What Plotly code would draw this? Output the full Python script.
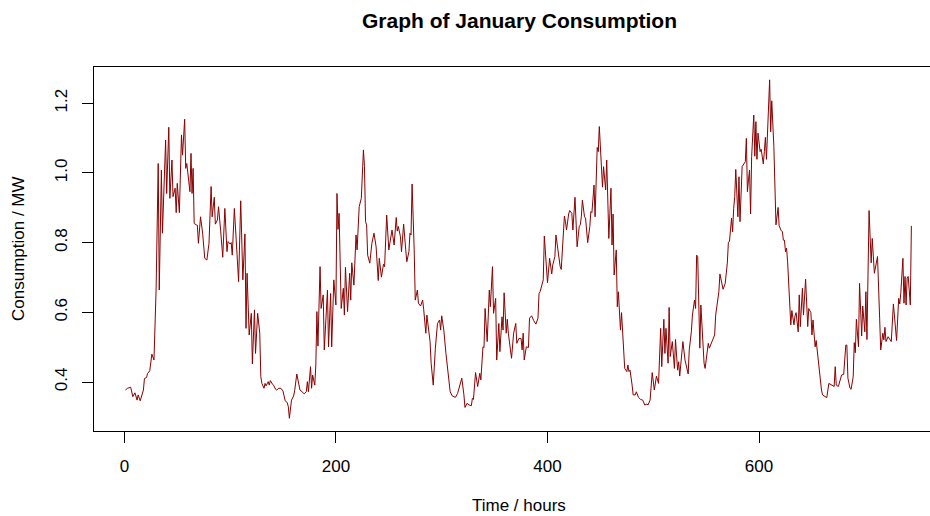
import plotly.graph_objects as go

# Hourly electricity consumption for January (hour index, MW)
hours = [
    1, 3, 6, 8, 10, 12, 13, 15, 18, 19, 21, 22, 24, 26, 28, 30, 32, 33, 35, 36,
    39, 40, 42, 43, 45, 46, 48, 49, 50, 52, 54, 55, 57, 58, 59, 62, 63, 64, 65, 66,
    68, 69, 70, 72, 74, 76, 78, 80, 82, 83, 85, 86, 88, 89, 91, 92, 93,
    95, 97, 98, 100, 101, 102, 104, 106, 108, 110, 112, 114, 115, 116, 118,
    120, 121, 123, 124, 126, 128, 129, 130, 132, 133, 134, 136, 137, 138, 140,
    141, 143, 144, 146, 148, 150, 152, 154, 155, 156, 158, 160, 161, 163, 165,
    166, 168, 170, 172, 173, 174, 176, 177, 178, 180, 181, 182, 183, 185, 186, 188, 189,
    192, 193, 195, 196, 198, 200, 201, 202, 203, 205, 207, 208, 209, 211, 213,
    214, 215, 217, 219, 220, 222, 224, 226, 227, 228, 229, 230, 232, 234, 236,
    238, 240, 241, 243, 245, 246, 248, 250, 253, 255, 257, 258, 259, 261, 262,
    264, 266, 267, 269, 270, 271, 272, 274, 275, 277, 278, 280, 282, 283,
    285, 286, 288, 289, 290, 292, 294, 296, 298, 299, 300, 302, 304, 305, 307,
    308, 310, 313, 315, 317, 319, 321, 322, 324, 326, 328, 329, 330, 332, 334,
    336, 337, 339, 340, 341, 343, 345, 346, 348, 349, 351, 352, 354, 355, 357,
    358, 359, 361, 362, 363, 366, 368, 370, 371, 373, 375, 376, 377, 378,
    380, 382, 383, 385, 387, 389, 391, 392, 393, 395, 396, 397, 399, 400, 402,
    404, 405, 407, 408, 410, 412, 413, 415, 416, 417, 418, 420, 421, 423, 424,
    426, 427, 428, 430, 431, 432, 433, 435, 436, 438, 440, 441, 442, 444, 445,
    447, 448, 449, 451, 452, 453, 455, 456, 458, 460, 461, 462, 463, 465, 466,
    467, 469, 470, 472,
    473, 475, 476, 477, 478, 480, 481, 483, 484, 486, 488, 490, 492, 494, 495,
    497, 499, 501, 503, 505, 507, 508, 510, 511, 512, 514, 515, 516, 518, 520,
    521, 523, 524, 525, 526, 528, 530, 531, 533, 534, 536, 537, 539, 540, 541,
    542, 544, 545, 547, 548, 549, 551, 552, 553, 555, 557, 558, 559, 561, 562,
    563, 565, 566,
    568, 570, 571, 572, 574, 575, 576, 577, 578, 580, 581, 582, 584, 585, 587,
    588, 589, 590, 591, 592, 593, 595, 596, 597, 598, 599, 601, 602, 604, 605,
    606, 607, 610, 611, 612, 614, 615, 616, 618, 619, 621, 622, 623, 624, 625,
    626, 627, 629, 630, 631, 633, 634, 635, 637, 638, 639, 641, 642, 644, 646,
    647, 649, 650, 651, 653, 654, 656, 657, 659, 660,
    662, 664, 666, 667, 669, 671, 672, 673, 675, 677, 678, 680, 682, 683, 684,
    686, 687, 689, 690, 691, 692, 694, 695, 697, 698, 700, 701, 702, 704, 706,
    707, 709, 711, 712, 714, 715, 717, 718, 719, 720, 722, 724, 725, 727, 729,
    730, 732, 733, 734, 736, 737, 738, 739, 740, 741, 743, 744,
]

consumption_mw = [
    0.377, 0.382, 0.385, 0.358, 0.369, 0.348, 0.363, 0.346, 0.377, 0.41, 0.413, 0.425, 0.432, 0.48, 0.463, 0.664, 1.027, 0.664, 1.008, 0.827,
    1.094, 0.941, 1.131, 0.927, 1.037, 0.932, 0.956, 0.886, 0.970, 0.886, 1.109, 1.051, 1.154, 1.013, 1.027, 0.946, 1.056, 0.941, 1.013, 0.855,
    0.851, 0.85, 0.798, 0.874, 0.827, 0.755, 0.75, 0.798, 0.961, 0.874, 0.93, 0.853, 0.865, 0.903, 0.836, 0.788, 0.758,
    0.898, 0.774, 0.803, 0.796, 0.8, 0.764, 0.898, 0.779, 0.688, 0.92, 0.693, 0.825, 0.554, 0.712, 0.535,
    0.597, 0.452, 0.607, 0.482, 0.597, 0.54, 0.415, 0.396, 0.382, 0.396, 0.389, 0.401, 0.391, 0.404, 0.394,
    0.391, 0.379, 0.377, 0.382, 0.382, 0.374, 0.346, 0.341, 0.329, 0.296, 0.348, 0.36, 0.375, 0.423, 0.396,
    0.377, 0.372, 0.366, 0.372, 0.401, 0.372, 0.444, 0.382, 0.42, 0.391, 0.449, 0.602, 0.503, 0.731, 0.611, 0.65, 0.492,
    0.664, 0.501, 0.654, 0.501, 0.693, 0.621, 0.941, 0.838, 0.884, 0.611, 0.669, 0.592, 0.729, 0.602, 0.712,
    0.635, 0.742, 0.678, 0.822, 0.779, 0.903, 0.927, 1.066, 1.018, 0.86, 0.851, 0.764, 0.741, 0.798, 0.827,
    0.788, 0.691, 0.755, 0.701, 0.738, 0.731, 0.879, 0.779, 0.836, 0.793, 0.872, 0.833, 0.846, 0.817, 0.774,
    0.853, 0.779, 0.745, 0.774, 0.827, 0.822, 0.968, 0.779, 0.635, 0.664, 0.626, 0.618, 0.635, 0.607,
    0.54, 0.592, 0.54, 0.516, 0.454, 0.391, 0.497, 0.568, 0.578, 0.549, 0.59, 0.549, 0.482, 0.452, 0.391,
    0.372, 0.36, 0.356, 0.367, 0.387, 0.411, 0.363, 0.327, 0.339, 0.334, 0.332, 0.353, 0.35, 0.427, 0.387,
    0.425, 0.406, 0.501, 0.499, 0.611, 0.516, 0.664, 0.616, 0.731, 0.597, 0.64, 0.463, 0.568, 0.487, 0.587,
    0.549, 0.656, 0.54, 0.58, 0.54, 0.468, 0.54, 0.568, 0.511, 0.525, 0.525, 0.492, 0.54, 0.463,
    0.501, 0.499, 0.583, 0.59, 0.576, 0.566, 0.583, 0.654, 0.659, 0.68, 0.693, 0.819, 0.745, 0.685, 0.755,
    0.71, 0.736, 0.76, 0.822, 0.769, 0.731, 0.723, 0.807, 0.876, 0.86, 0.836, 0.882, 0.892, 0.884, 0.836,
    0.93, 0.855, 0.788, 0.846, 0.851, 0.874, 0.922, 0.874, 0.87, 0.8, 0.846, 0.889, 0.886, 0.965, 0.874,
    1.073, 1.061, 1.133, 1.032, 0.959, 1.018, 0.951, 1.037, 0.812, 0.956, 0.793, 0.882, 0.707, 0.779, 0.616,
    0.659, 0.549, 0.599, 0.463,
    0.439, 0.43, 0.449, 0.43, 0.434, 0.391, 0.363, 0.363, 0.372, 0.356, 0.35, 0.348, 0.334, 0.337, 0.334,
    0.348, 0.427, 0.377, 0.417, 0.396, 0.554, 0.444, 0.58, 0.482, 0.554, 0.454, 0.614, 0.473, 0.516, 0.439,
    0.522, 0.434, 0.458, 0.417, 0.454, 0.516, 0.463, 0.446, 0.423, 0.492, 0.544, 0.592, 0.635, 0.611, 0.764,
    0.76, 0.497, 0.621, 0.511, 0.454, 0.439, 0.492, 0.511, 0.497, 0.513, 0.53, 0.535, 0.592, 0.635, 0.659,
    0.71, 0.683, 0.666,
    0.683, 0.741, 0.801, 0.803, 0.87, 0.831, 0.898, 0.932, 1.01, 0.874, 0.989, 0.86, 1.018, 1.023, 1.032,
    1.099, 0.946, 0.98, 1.008, 0.882, 1.047, 1.166, 1.048, 1.147, 1.039, 1.114, 1.061, 1.068, 1.026, 1.061,
    1.102, 1.039, 1.267, 1.118, 1.207, 1.075, 0.951, 0.851, 0.901, 0.848, 0.834, 0.832, 0.807, 0.807, 0.774,
    0.784, 0.745, 0.645, 0.564, 0.605, 0.564, 0.59, 0.599, 0.544, 0.65, 0.559, 0.669, 0.592, 0.695, 0.559,
    0.611, 0.599, 0.535, 0.578, 0.501, 0.519, 0.463, 0.42, 0.377, 0.363,
    0.358, 0.355, 0.396, 0.394, 0.391, 0.387, 0.444, 0.391, 0.387, 0.408, 0.42, 0.422, 0.506, 0.506, 0.411,
    0.382, 0.379, 0.415, 0.513, 0.484, 0.58, 0.501, 0.683, 0.532, 0.618, 0.544, 0.659, 0.522, 0.892, 0.742,
    0.812, 0.712, 0.75, 0.76, 0.583, 0.492, 0.54, 0.521, 0.557, 0.516, 0.53, 0.521, 0.516, 0.624, 0.549,
    0.519, 0.64, 0.624, 0.656, 0.755, 0.626, 0.703, 0.621, 0.698, 0.703, 0.621, 0.848,
]

assert len(hours) == len(consumption_mw)

x_ticks = [0, 200, 400, 600]
y_ticks = [0.4, 0.6, 0.8, 1.0, 1.2]
y_tick_text = ["0.4", "0.6", "0.8", "1.0", "1.2"]

FONT = "Liberation Sans, Arial, Helvetica, sans-serif"
LINE_COLOR = "#8B0000"

fig = go.Figure(
    go.Scatter(
        x=hours,
        y=consumption_mw,
        mode="lines",
        line=dict(color=LINE_COLOR, width=1),
        hoverinfo="x+y",
    )
)

fig.update_layout(
    width=930,
    height=516,
    margin=dict(l=94, r=0, t=67, b=85),
    paper_bgcolor="white",
    plot_bgcolor="white",
    showlegend=False,
    font=dict(family=FONT, size=17, color="black"),
)

fig.update_xaxes(
    range=[-28.7, 761.6],
    tickvals=x_ticks,
    ticks="outside",
    ticklen=11,
    tickwidth=1,
    tickcolor="black",
    ticklabelstandoff=9,
    showline=True,
    linecolor="black",
    linewidth=1,
    mirror=True,
    showgrid=False,
    zeroline=False,
)

fig.update_yaxes(
    range=[0.2594, 1.3039],
    tickvals=y_ticks,
    ticktext=y_tick_text,
    tickangle=-90,
    ticks="outside",
    ticklen=11,
    tickwidth=1,
    tickcolor="black",
    ticklabelstandoff=8,
    showline=True,
    linecolor="black",
    linewidth=1,
    mirror=False,
    showgrid=False,
    zeroline=False,
)

# Title and axis labels, centred on the full plotting region
fig.add_annotation(
    text="<b>Graph of January Consumption</b>",
    xref="paper", yref="paper", x=0.5084, y=1.129,
    xanchor="center", yanchor="middle", showarrow=False,
    font=dict(family=FONT, size=21, color="black"),
)
fig.add_annotation(
    text="Time / hours",
    xref="paper", yref="paper", x=0.5084, y=-0.2060,
    xanchor="center", yanchor="middle", showarrow=False,
    font=dict(family=FONT, size=17, color="black"),
)
fig.add_annotation(
    text="Consumption / MW",
    xref="paper", yref="paper", x=-0.0909, y=0.5,
    xanchor="center", yanchor="middle", showarrow=False, textangle=-90,
    font=dict(family=FONT, size=17, color="black"),
)

fig.write_html("out.html")
